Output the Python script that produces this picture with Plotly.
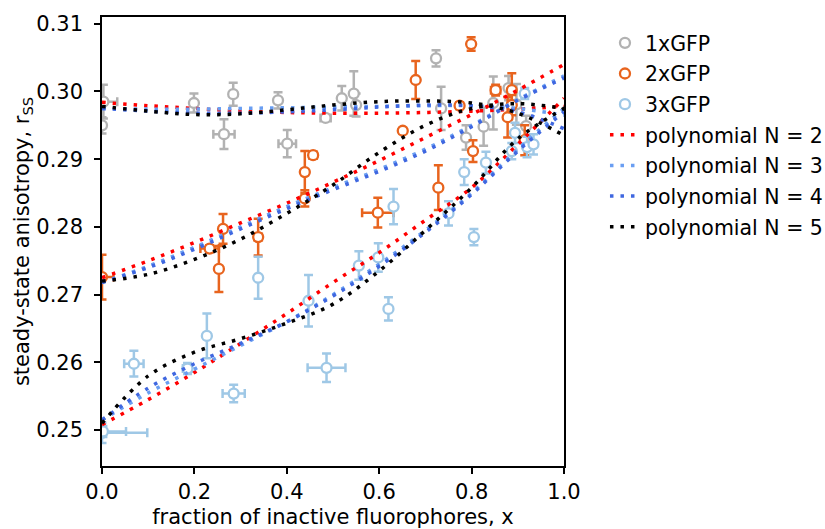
import plotly.graph_objects as go

# ---------------- data ----------------
x_1x = [0.003, 0.0, 0.199, 0.264, 0.284, 0.381, 0.401, 0.484, 0.519, 0.545, 0.550,
        0.723, 0.734, 0.788, 0.826, 0.847, 0.880, 0.897, 0.918]
y_1x = [0.2985, 0.2950, 0.2983, 0.2937, 0.2996, 0.2987, 0.2923, 0.2961, 0.2990, 0.2997, 0.2980,
        0.3049, 0.2975, 0.2932, 0.2948, 0.2983, 0.3005, 0.2981, 0.2949]
yerr_1x = [0.0025, 0.0012, 0.0014, 0.0022, 0.0017, 0.0012, 0.0020, 0.0004, 0.0018, 0.0033, 0.0017,
           0.0012, 0.0032, 0.0018, 0.0028, 0.0039, 0.0018, 0.0030, 0.0015]
xerr_1x = [0.030, 0.0, 0.0, 0.023, 0.0, 0.0, 0.019, 0.011, 0.0, 0.0, 0.0,
           0.0, 0.0, 0.0, 0.0, 0.0, 0.0, 0.0, 0.0]

x_2x = [0.0, 0.233, 0.262, 0.253, 0.338, 0.439, 0.457, 0.439, 0.597, 0.651, 0.679,
        0.728, 0.774, 0.799, 0.803, 0.852, 0.887, 0.887, 0.878, 0.915]
y_2x = [0.2726, 0.2768, 0.2797, 0.2738, 0.2785, 0.2881, 0.2906, 0.2842, 0.2821, 0.2942, 0.3017,
        0.2858, 0.2979, 0.3070, 0.2912, 0.3002, 0.3002, 0.2980, 0.2962, 0.2928]
yerr_2x = [0.0033, 0.0005, 0.0022, 0.0034, 0.0027, 0.0031, 0.0005, 0.0012, 0.0022, 0.0004, 0.0028,
           0.0033, 0.0005, 0.0010, 0.0016, 0.0008, 0.0025, 0.0015, 0.0030, 0.0022]
xerr_2x = [0.025, 0.020, 0.0, 0.0, 0.008, 0.0, 0.008, 0.0, 0.034, 0.0, 0.0,
           0.0, 0.0, 0.0, 0.0, 0.010, 0.0, 0.0, 0.0, 0.0]

x_3x = [0.0, 0.002, 0.069, 0.185, 0.227, 0.285, 0.338, 0.447, 0.486, 0.556, 0.598,
        0.620, 0.631, 0.750, 0.784, 0.805, 0.831, 0.887, 0.894, 0.915, 0.920, 0.934]
y_3x = [0.2496, 0.2498, 0.2598, 0.2591, 0.2639, 0.2554, 0.2725, 0.2691, 0.2592, 0.2743, 0.2755,
        0.2679, 0.2830, 0.2820, 0.2881, 0.2785, 0.2895, 0.2912, 0.2939, 0.2997, 0.2918, 0.2922]
yerr_3x = [0.0015, 0.0008, 0.0019, 0.0008, 0.0033, 0.0013, 0.0031, 0.0038, 0.0021, 0.0021, 0.0021,
           0.0017, 0.0026, 0.0018, 0.0019, 0.0012, 0.0016, 0.0012, 0.0015, 0.0008, 0.0015, 0.0015]
xerr_3x = [0.098, 0.050, 0.021, 0.010, 0.0, 0.024, 0.0, 0.0, 0.041, 0.0, 0.0,
           0.0, 0.0, 0.0, 0.0, 0.0, 0.0, 0.0, 0.0, 0.0, 0.0, 0.0]

fit_x = [0.0, 0.1, 0.2, 0.3, 0.4, 0.5, 0.6, 0.7, 0.8, 0.9, 1.0]

fit_1x_N2 = [0.2984, 0.2979, 0.2975, 0.2971, 0.2969, 0.2968, 0.2968, 0.2969, 0.2971, 0.2974, 0.2978]
fit_1x_N3 = [0.2975, 0.2974, 0.2974, 0.2975, 0.2976, 0.2977, 0.2978, 0.2979, 0.2979, 0.2975, 0.2965]
fit_1x_N4 = [0.2975, 0.2971, 0.2968, 0.2968, 0.2970, 0.2973, 0.2977, 0.2980, 0.2979, 0.2970, 0.2945]
fit_1x_N5 = [0.2978, 0.2971, 0.2966, 0.2967, 0.2973, 0.2980, 0.2985, 0.2986, 0.2983, 0.2968, 0.2935]

fit_2x_N2 = [0.2725, 0.2750, 0.2777, 0.2806, 0.2835, 0.2866, 0.2898, 0.2932, 0.2966, 0.3002, 0.3040]
fit_2x_N3 = [0.2718, 0.2742, 0.2770, 0.2800, 0.2830, 0.2858, 0.2885, 0.2915, 0.2950, 0.2988, 0.3023]
fit_2x_N4 = [0.2718, 0.2740, 0.2767, 0.2797, 0.2827, 0.2855, 0.2882, 0.2912, 0.2948, 0.2987, 0.3020]
fit_2x_N5 = [0.2720, 0.2730, 0.2752, 0.2782, 0.2820, 0.2862, 0.2910, 0.2950, 0.2975, 0.2982, 0.2975]

fit_3x_N2 = [0.2508, 0.2545, 0.2585, 0.2628, 0.2672, 0.2718, 0.2762, 0.2810, 0.2858, 0.2922, 0.2990]
fit_3x_N3 = [0.2515, 0.2555, 0.2590, 0.2625, 0.2660, 0.2700, 0.2745, 0.2795, 0.2850, 0.2915, 0.2975]
fit_3x_N4 = [0.2515, 0.2562, 0.2598, 0.2628, 0.2660, 0.2698, 0.2742, 0.2792, 0.2848, 0.2912, 0.2970]
fit_3x_N5 = [0.2510, 0.2580, 0.2615, 0.2635, 0.2658, 0.2686, 0.2735, 0.2795, 0.2858, 0.2930, 0.2975]

x_ticks = [0.0, 0.2, 0.4, 0.6, 0.8, 1.0]
x_tick_labels = ["0.0", "0.2", "0.4", "0.6", "0.8", "1.0"]
y_ticks = [0.25, 0.26, 0.27, 0.28, 0.29, 0.30, 0.31]
y_tick_labels = ["0.25", "0.26", "0.27", "0.28", "0.29", "0.30", "0.31"]

# ---------------- styling ----------------
FONT = "DejaVu Sans"
FS = 21
data_series = [
    ("1xGFP", x_1x, y_1x, xerr_1x, yerr_1x, "#b2b2b2"),
    ("2xGFP", x_2x, y_2x, xerr_2x, yerr_2x, "#e8641e"),
    ("3xGFP", x_3x, y_3x, xerr_3x, yerr_3x, "#9fc8e6"),
]
fit_series = [
    ("polynomial N = 2", "#ff0000", [fit_1x_N2, fit_2x_N2, fit_3x_N2]),
    ("polynomial N = 3", "#6a9ef2", [fit_1x_N3, fit_2x_N3, fit_3x_N3]),
    ("polynomial N = 4", "#3f67e0", [fit_1x_N4, fit_2x_N4, fit_3x_N4]),
    ("polynomial N = 5", "#000000", [fit_1x_N5, fit_2x_N5, fit_3x_N5]),
]

fig = go.Figure()

for name, xs, ys, xe, ye, col in data_series:
    fig.add_trace(go.Scatter(
        x=xs, y=ys, mode="markers", name=name, legendgroup=name,
        marker=dict(symbol="circle", size=10, color="white",
                    line=dict(color=col, width=2.3)),
        error_y=dict(type="data", array=ye, visible=True, color=col,
                     thickness=2.5, width=4.5),
        error_x=dict(type="data", array=xe, visible=True, color=col,
                     thickness=2.5, width=4.5),
    ))

for name, col, curves in fit_series:
    for i, ys in enumerate(curves):
        fig.add_trace(go.Scatter(
            x=fit_x, y=ys, mode="lines", name=name, legendgroup=name,
            showlegend=(i == 0),
            line=dict(color=col, width=3.5, dash="3.5px,7px", shape="spline",
                      smoothing=1.0),
        ))

axis_common = dict(
    showline=True, linecolor="black", linewidth=1.5, mirror=True,
    ticks="outside", ticklen=6, tickwidth=1.5, tickcolor="black",
    showgrid=False, zeroline=False,
    tickfont=dict(family=FONT, size=FS, color="black"),
)

fig.update_layout(
    width=825, height=529,
    margin=dict(l=102, r=261, t=17, b=63),
    paper_bgcolor="white", plot_bgcolor="white",
    font=dict(family=FONT, size=FS, color="black"),
    xaxis=dict(range=[0, 1], tickvals=x_ticks, ticktext=x_tick_labels,
               automargin=False,
               title=dict(text="fraction of inactive fluorophores, x",
                          font=dict(family=FONT, size=FS, color="black")),
               **axis_common),
    yaxis=dict(range=[0.2447, 0.3110], tickvals=y_ticks, ticktext=y_tick_labels,
               automargin=True, ticklabelstandoff=7,
               title=dict(text="steady-state anisotropy, r<sub>SS</sub>",
                          font=dict(family=FONT, size=FS, color="black"),
                          standoff=1),
               **axis_common),
    legend=dict(xref="container", yref="container",
                x=0.7333, y=0.9565, xanchor="left", yanchor="top",
                font=dict(family=FONT, size=20.5, color="black"),
                bgcolor="rgba(0,0,0,0)", borderwidth=0,
                tracegroupgap=1, traceorder="grouped"),
    showlegend=True,
)

# remove the page's default body margin so the figure sits at the window origin
fig.write_html(
    "out.html",
    config={"displayModeBar": False},
    post_script="document.body.style.margin='0';document.body.style.overflow='hidden';",
)
